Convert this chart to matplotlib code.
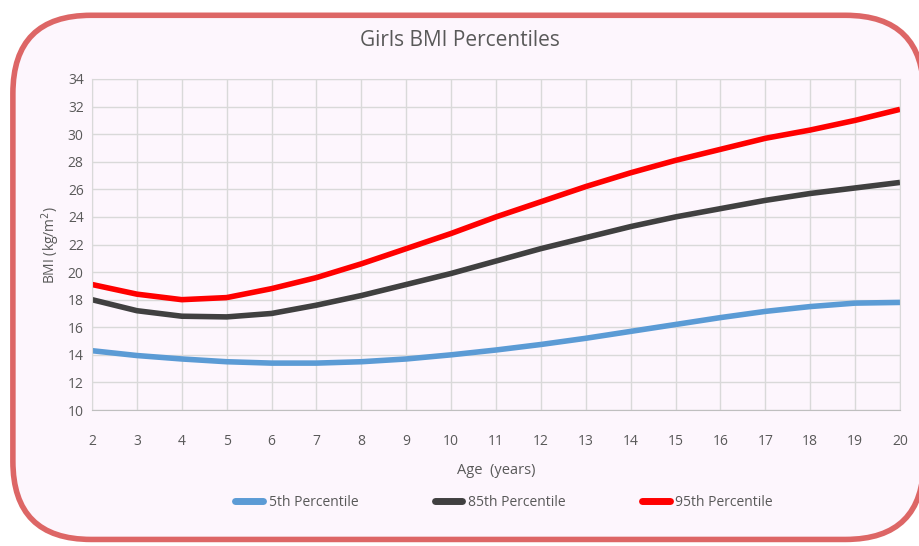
import matplotlib.pyplot as plt
from matplotlib.patches import FancyBboxPatch

ages = list(range(2, 21))
p5 = [14.3, 13.95, 13.7, 13.5, 13.4, 13.4, 13.5, 13.7, 14.0, 14.35,
      14.75, 15.2, 15.7, 16.2, 16.7, 17.15, 17.5, 17.75, 17.8]
p85 = [18.0, 17.2, 16.8, 16.75, 17.0, 17.6, 18.3, 19.1, 19.9, 20.8,
       21.7, 22.5, 23.3, 24.0, 24.6, 25.2, 25.7, 26.1, 26.5]
p95 = [19.1, 18.4, 18.0, 18.15, 18.8, 19.6, 20.6, 21.7, 22.8, 24.0,
       25.1, 26.2, 27.2, 28.1, 28.9, 29.7, 30.3, 31.0, 31.8]
series_labels = ["5th Percentile", "85th Percentile", "95th Percentile"]
yticks = list(range(10, 35, 2))

plt.rcParams["font.family"] = ["Open Sans", "DejaVu Sans"]
text_color = "#595959"

fig = plt.figure(figsize=(9.2, 5.46), dpi=100)
fig.patch.set_facecolor("white")

frame = FancyBboxPatch((0.014, 0.012), 0.99, 0.96, boxstyle="round,pad=0,rounding_size=0.085",
                       transform=fig.transFigure, facecolor="#fdf6fd", edgecolor="#dd6666",
                       linewidth=4, mutation_aspect=920 / 546, zorder=0)
fig.patches.append(frame)

ax = fig.add_axes([92 / 920, 1 - 410 / 546, 808 / 920, 331 / 546])
ax.set_zorder(2)
ax.patch.set_alpha(0)

styles = dict(linewidth=4, solid_capstyle="butt", solid_joinstyle="round")
ax.plot(ages, p5, color="#5b9bd5", label=series_labels[0], **styles)
ax.plot(ages, p85, color="#404040", label=series_labels[1], **styles)
ax.plot(ages, p95, color="#ff0000", label=series_labels[2], **styles)

ax.set_xlim(2, 20)
ax.set_ylim(10, 34)
ax.set_xticks(ages)
ax.set_yticks(yticks)
ax.grid(True, color="#d9d9d9", linewidth=1)
ax.set_axisbelow(True)
for side in ["top", "right", "left"]:
    ax.spines[side].set_color("#d9d9d9")
ax.spines["bottom"].set_color("#bfbfbf")
ax.tick_params(length=0, labelsize=10, colors=text_color)
ax.tick_params(axis="x", pad=17)
ax.tick_params(axis="y", pad=6)

ax.set_xlabel("Age  (years)", color=text_color, fontsize=10.5, labelpad=10)
ax.set_ylabel("BMI (kg/m$^2$)", color=text_color, fontsize=10, labelpad=4)
fig.text(0.5, 1 - 40 / 546, "Girls BMI Percentiles", ha="center", va="center",
         color=text_color, fontsize=15)

leg = fig.legend(loc="center", bbox_to_anchor=(504 / 920, 1 - 502 / 546), ncol=3, frameon=False,
                 fontsize=10, handlelength=2.0, handletextpad=0.4, columnspacing=5.5,
                 labelcolor=text_color)
for line in leg.get_lines():
    line.set_linewidth(5)
    line.set_solid_capstyle("round")
leg.set_zorder(3)

fig.savefig("out.png", dpi=100, facecolor="white")
